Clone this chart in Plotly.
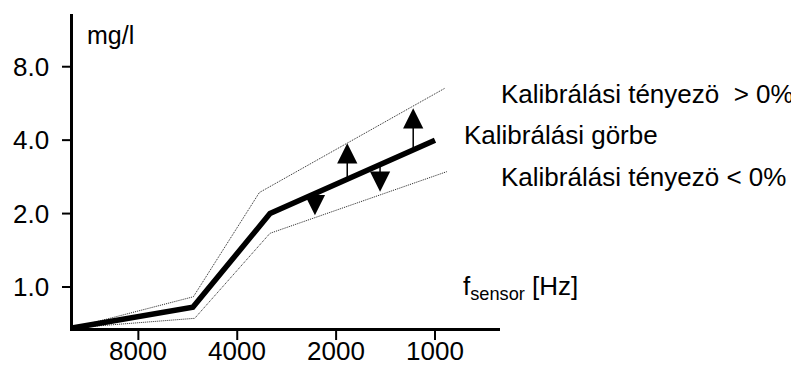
import numpy as np
import plotly.graph_objects as go

# ---- data ----
f_main = [12650, 5460, 3180, 1000]
c_main = [0.68, 0.826, 2.0, 4.0]

f_upper = [12650, 5440, 3425, 933]
c_upper = [0.68, 0.912, 2.44, 6.53]

f_lower = [12650, 5390, 3180, 921]
c_lower = [0.68, 0.744, 1.66, 2.97]

# arrows: frequency, start value (on main curve), end value (tip)
arrow_f = [1850, 1165, 2320, 1470]
arrow_from = [2.77, 3.66, 2.42, 3.15]
arrow_to = [3.88, 5.41, 1.97, 2.46]

x_ticks = [8000, 4000, 2000, 1000]
x_ticklabels = ["8000", "4000", "2000", "1000"]
y_ticks = [1, 2, 4, 8]
y_ticklabels = ["1.0", "2.0", "4.0", "8.0"]

FONT = "Liberation Sans, Arial, Helvetica, sans-serif"

X_RANGE = [np.log10(12650), np.log10(634)]
Y_RANGE = [np.log10(0.679), np.log10(13.16)]

def xfrac(v):
    return (np.log10(v) - X_RANGE[0]) / (X_RANGE[1] - X_RANGE[0])

def yfrac(v):
    return (np.log10(v) - Y_RANGE[0]) / (Y_RANGE[1] - Y_RANGE[0])

fig = go.Figure()
fig.add_trace(go.Scatter(x=f_upper, y=c_upper, mode="lines",
                         line=dict(color="#222", width=1, dash="1px,1px"),
                         hoverinfo="skip"))
fig.add_trace(go.Scatter(x=f_lower, y=c_lower, mode="lines",
                         line=dict(color="#222", width=1, dash="1px,1px"),
                         hoverinfo="skip"))
fig.add_trace(go.Scatter(x=f_main, y=c_main, mode="lines",
                         line=dict(color="black", width=5.5),
                         hoverinfo="skip"))

annotations = []
for f, a, b in zip(arrow_f, arrow_from, arrow_to):
    annotations.append(dict(
        x=np.log10(f), y=np.log10(b), ax=np.log10(f), ay=np.log10(a),
        xref="x", yref="y", axref="x", ayref="y",
        text="", showarrow=True, arrowhead=2, arrowsize=2.7,
        arrowwidth=1.5, arrowcolor="black", standoff=0, startstandoff=0))

# page is offset by the 8px body margin; figure is 791x359
OFF = 8
L, T, PW, PH = 73 - OFF, 14 - OFF, 427, 314
W, H = 799 - OFF, 367 - OFF

def px(xp):
    return (xp - OFF - L) / PW

def py(yp):
    return (T + PH - (yp - OFF)) / PH

# tick marks and tick labels
shapes = []
for v, t in zip(y_ticks, y_ticklabels):
    shapes.append(dict(type="line", xref="paper", yref="paper",
                       x0=px(62), x1=px(72.5), y0=yfrac(v), y1=yfrac(v),
                       line=dict(color="black", width=2)))
    annotations.append(dict(
        x=px(50), y=np.log10(v), xref="paper", yref="y", text=t,
        showarrow=False, xanchor="right", yanchor="middle", borderpad=0,
        font=dict(family=FONT, size=26, color="black")))
for v, t in zip(x_ticks, x_ticklabels):
    shapes.append(dict(type="line", xref="paper", yref="paper",
                       x0=xfrac(v), x1=xfrac(v), y0=py(329), y1=py(340),
                       line=dict(color="black", width=2)))
    annotations.append(dict(
        x=np.log10(v), y=py(366.5), xref="x", yref="paper", text=t,
        showarrow=False, xanchor="center", yanchor="bottom", borderpad=0,
        font=dict(family=FONT, size=26, color="black")))

text_items = [
    ("Kalibrálási tényezö \u00a0> 0%", 499, 93.5, 26),
    ("Kalibrálási görbe", 462, 135.3, 26),
    ("Kalibrálási tényezö < 0%", 499, 177, 26),
    ("f<sub>sensor</sub> [Hz]", 461, 287, 26),
    ("mg/l", 85, 35, 25),
]
for t, xp, yp, fs in text_items:
    annotations.append(dict(
        x=px(xp), y=py(yp), xref="paper", yref="paper", text=t,
        showarrow=False, xanchor="left", yanchor="middle",
        font=dict(family=FONT, size=fs, color="black")))

fig.update_layout(
    width=W, height=H,
    margin=dict(l=L, r=W - L - PW, t=T, b=H - T - PH, autoexpand=False),
    paper_bgcolor="white", plot_bgcolor="white",
    showlegend=False,
    font=dict(family=FONT, size=26, color="black"),
    annotations=annotations,
    shapes=shapes,
)
fig.update_xaxes(type="log", range=X_RANGE,
                 tickvals=x_ticks, showticklabels=False, automargin=False,
                 showline=True, linecolor="black", linewidth=2.5,
                 ticks="", showgrid=False, zeroline=False)
fig.update_yaxes(type="log", range=Y_RANGE,
                 tickvals=y_ticks, showticklabels=False, automargin=False,
                 showline=True, linecolor="black", linewidth=2.5,
                 ticks="", showgrid=False, zeroline=False)

fig.write_html("out.html")
